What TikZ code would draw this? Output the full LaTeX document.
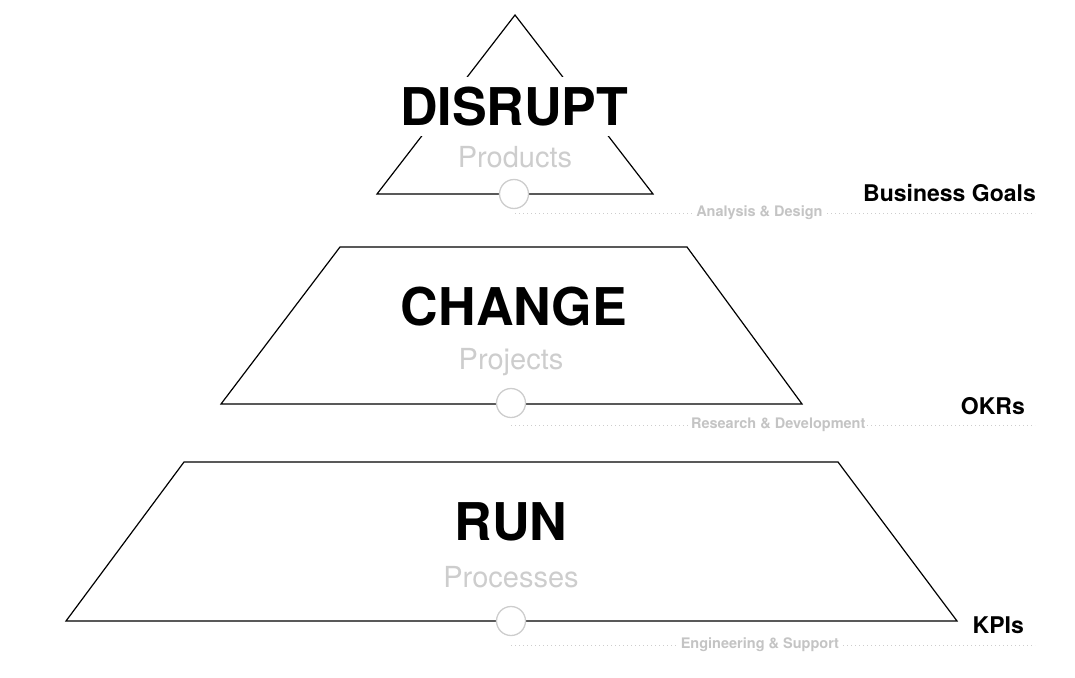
\documentclass[tikz,border=0pt]{standalone}
\usepackage{fontspec}
\setmainfont{TeX Gyre Heros}
\usepackage{tikz}
\usetikzlibrary{positioning, calc}
\definecolor{softgray}{RGB}{205,205,205}
\definecolor{taggray}{RGB}{196,196,196}

\begin{document}
\begin{tikzpicture}[
        x=1pt, y=-1pt,
        tier/.style={draw=black, line width=1.2pt, line join=miter},
        title/.style={font=\fontsize{52}{52}\selectfont\bfseries, anchor=base, text height=37pt, text depth=0pt, inner xsep=3pt, inner ysep=11pt, fill=white},
        sub/.style={font=\fontsize{29}{29}\selectfont, text=softgray, anchor=base},
        hub/.style={circle, draw=softgray, line width=1.3pt, fill=white, minimum size=29pt, inner sep=0pt},
        track/.style={draw=softgray, line width=0.9pt, dash pattern=on 0.9pt off 3.1pt},
        tag/.style={font=\fontsize{14.5}{14.5}\selectfont\bfseries, text=taggray, fill=white, inner xsep=2pt, inner ysep=1pt},
        goal/.style={font=\fontsize{23}{23}\selectfont\bfseries, anchor=base east, inner sep=0pt}
    ]
    \useasboundingbox (0,0) rectangle (1075,677);

    % Shapes
    \draw[tier] (515,15) -- (653,194) -- (377,194) -- cycle;
    \draw[tier] (340,247) -- (687,247) -- (802,404) -- (221,404) -- cycle;
    \draw[tier] (184,462) -- (838,462) -- (957,621) -- (66,621) -- cycle;

    % Nodes
    \node[title] (disrupt) at (514,125) {DISRUPT};
    \node[sub] (products) at (515,167) {Products};
    \node[title] (change) at (514,325) {CHANGE};
    \node[sub] (projects) at (511,369) {Projects};
    \node[title] (run) at (511,540) {RUN};
    \node[sub] (processes) at (511,587) {Processes};

    \node[hub] (hubD) at (514,194) {};
    \node[hub] (hubC) at (511,403) {};
    \node[hub] (hubR) at (511,621) {};

    \node[goal] (goals) at (1036,201) {Business Goals};
    \node[goal] (okrs) at (1025,414) {OKRs};
    \node[goal] (kpis) at (1024,633) {KPIs};

    % Tracks
    \coordinate (trackD) at (515,213);
    \coordinate (endD) at (1035,213);
    \coordinate (trackC) at (511,425);
    \coordinate (endC) at (1035,425);
    \coordinate (trackR) at (511,645);
    \coordinate (endR) at (1035,645);

    \draw[track] (trackD) -- (endD) node[tag, pos=0.47] (design) {Analysis \& Design};
    \draw[track] (trackC) -- (endC) node[tag, pos=0.51] (develop) {Research \& Development};
    \draw[track] (trackR) -- (endR) node[tag, pos=0.475] (support) {Engineering \& Support};

\end{tikzpicture}
\end{document}
